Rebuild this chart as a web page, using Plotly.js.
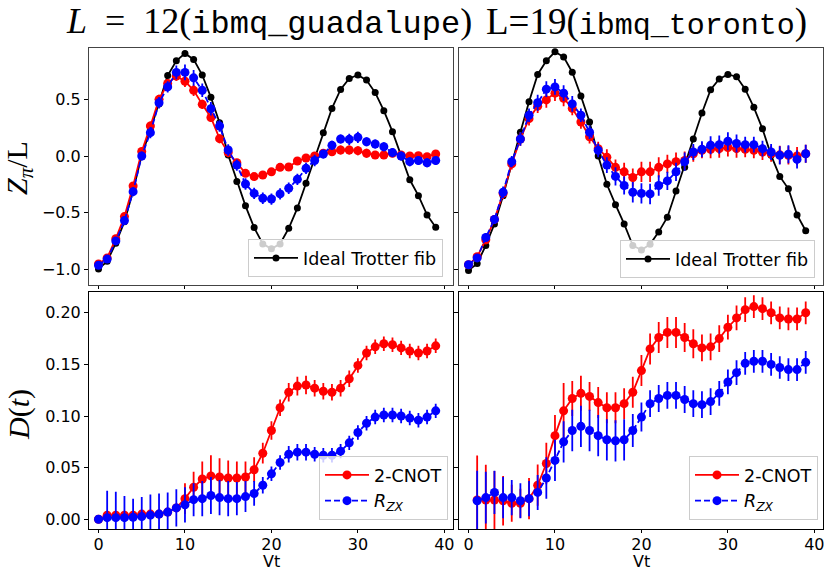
<!DOCTYPE html>
<html>
<head>
<meta charset="utf-8">
<script src="https://cdn.plot.ly/plotly-3.0.1.min.js"></script>
<style>html,body{margin:0;padding:0;background:#fff;}#chart{width:830px;height:572px;}</style>
</head>
<body>
<div id="chart"></div>
<script>
// ---------- data ----------
const vt = [0,1,2,3,4,5,6,7,8,9,10,11,12,13,14,15,16,17,18,19,20,21,22,23,24,25,26,27,28,29,30,31,32,33,34,35,36,37,38,39];
const vtRight = [1,2,3,4,5,6,7,8,9,10,11,12,13,14,15,16,17,18,19,20,21,22,23,24,25,26,27,28,29,30,31,32,33,34,35,36,37,38,39];

// L=12 (ibmq_guadalupe): Z_pi / L
const idealL12 = [-0.997,-0.93,-0.77,-0.58,-0.31,0.01,0.23,0.46,0.71,0.84,0.906,0.853,0.715,0.518,0.294,0.009,-0.226,-0.44,-0.632,-0.776,-0.82,-0.776,-0.638,-0.46,-0.24,-0.02,0.206,0.42,0.588,0.685,0.715,0.67,0.56,0.40,0.215,-0.006,-0.21,-0.35,-0.52,-0.63];
const cnotL12 = [-0.953,-0.90,-0.73,-0.535,-0.265,0.04,0.265,0.50,0.64,0.705,0.66,0.58,0.456,0.34,0.153,0.03,-0.06,-0.153,-0.182,-0.168,-0.14,-0.10,-0.097,-0.044,-0.018,0.0,0.024,0.038,0.053,0.053,0.047,0.024,0.009,0.009,0.024,0.009,0.0,0.003,-0.006,0.018];
const cnotL12Err = [0.02,0.02,0.03,0.03,0.03,0.03,0.04,0.04,0.04,0.04,0.05,0.05,0.04,0.04,0.04,0.04,0.03,0.03,0.03,0.03,0.03,0.03,0.03,0.03,0.03,0.03,0.03,0.03,0.04,0.04,0.04,0.04,0.03,0.03,0.03,0.03,0.03,0.03,0.03,0.03];
const rzxL12 = [-0.965,-0.91,-0.75,-0.57,-0.315,0.0,0.206,0.47,0.61,0.738,0.738,0.69,0.58,0.417,0.265,0.053,-0.08,-0.247,-0.33,-0.373,-0.38,-0.335,-0.285,-0.206,-0.109,-0.04,0.018,0.094,0.15,0.147,0.165,0.126,0.106,0.082,0.03,0.0,-0.05,-0.04,-0.06,-0.04];
const rzxL12Err = [0.02,0.02,0.03,0.04,0.04,0.04,0.05,0.05,0.05,0.06,0.07,0.07,0.06,0.06,0.05,0.05,0.05,0.05,0.05,0.05,0.05,0.05,0.05,0.05,0.05,0.05,0.04,0.04,0.04,0.05,0.05,0.04,0.04,0.04,0.04,0.04,0.04,0.04,0.04,0.04];

// L=19 (ibmq_toronto): Z_pi / L
const idealL19 = [-1.01,-0.95,-0.79,-0.60,-0.35,-0.06,0.21,0.48,0.72,0.84,0.92,0.875,0.74,0.53,0.30,0.0,-0.25,-0.43,-0.60,-0.79,-0.83,-0.78,-0.67,-0.54,-0.31,-0.10,0.15,0.38,0.585,0.68,0.72,0.70,0.59,0.43,0.24,0.006,-0.18,-0.29,-0.52,-0.66];
const cnotL19 = [-0.96,-0.89,-0.74,-0.56,-0.33,-0.07,0.15,0.33,0.44,0.495,0.555,0.51,0.42,0.30,0.17,0.065,-0.01,-0.10,-0.14,-0.19,-0.14,-0.14,-0.10,-0.07,-0.05,-0.04,0.02,0.05,0.06,0.065,0.075,0.065,0.06,0.05,0.035,0.02,0.01,0.006,0.0,0.02];
const cnotL19Err = [0.03,0.03,0.04,0.04,0.05,0.05,0.06,0.06,0.06,0.07,0.07,0.07,0.06,0.06,0.06,0.06,0.07,0.07,0.08,0.08,0.09,0.09,0.09,0.08,0.08,0.08,0.07,0.07,0.08,0.08,0.08,0.08,0.07,0.07,0.07,0.07,0.08,0.08,0.08,0.08];
const rzxL19 = [-0.96,-0.90,-0.72,-0.56,-0.32,-0.05,0.15,0.36,0.47,0.59,0.61,0.555,0.46,0.36,0.21,0.05,-0.08,-0.18,-0.26,-0.32,-0.33,-0.335,-0.26,-0.22,-0.14,-0.05,0.035,0.06,0.095,0.10,0.13,0.11,0.10,0.10,0.065,0.035,0.006,0.015,-0.03,0.02];
const rzxL19Err = [0.03,0.03,0.04,0.04,0.05,0.05,0.06,0.06,0.07,0.07,0.07,0.07,0.07,0.06,0.06,0.06,0.07,0.08,0.08,0.09,0.09,0.09,0.09,0.08,0.08,0.08,0.07,0.07,0.08,0.08,0.08,0.08,0.07,0.07,0.07,0.07,0.08,0.08,0.08,0.08];

// D(t)
const dCnotL12 = [0.0,0.004,0.004,0.004,0.004,0.005,0.005,0.005,0.007,0.011,0.020,0.031,0.039,0.042,0.041,0.040,0.040,0.041,0.048,0.064,0.086,0.108,0.123,0.129,0.130,0.127,0.124,0.123,0.127,0.136,0.149,0.161,0.167,0.170,0.169,0.166,0.163,0.161,0.163,0.168];
const dCnotL12Err = [0.001,0.003,0.003,0.003,0.003,0.003,0.003,0.003,0.003,0.004,0.015,0.015,0.017,0.02,0.018,0.017,0.016,0.015,0.012,0.01,0.009,0.008,0.009,0.009,0.009,0.008,0.008,0.008,0.008,0.008,0.007,0.007,0.007,0.007,0.007,0.007,0.007,0.007,0.007,0.007];
const dRzxL12 = [0.0,0.0016,0.0016,0.0016,0.002,0.0026,0.004,0.005,0.007,0.011,0.014,0.019,0.020,0.023,0.021,0.020,0.020,0.022,0.025,0.033,0.044,0.055,0.063,0.065,0.065,0.063,0.062,0.062,0.066,0.074,0.084,0.093,0.099,0.101,0.101,0.100,0.098,0.096,0.099,0.105];
const dRzxL12Err = [0.001,0.026,0.025,0.021,0.018,0.019,0.02,0.02,0.019,0.018,0.017,0.016,0.017,0.018,0.017,0.017,0.016,0.015,0.012,0.008,0.007,0.007,0.008,0.008,0.008,0.007,0.007,0.007,0.007,0.007,0.007,0.007,0.007,0.007,0.007,0.007,0.007,0.007,0.007,0.007];

const dCnotL19 = [0.0187,0.0187,0.0187,0.018,0.0155,0.0155,0.020,0.033,0.054,0.081,0.105,0.117,0.122,0.119,0.113,0.108,0.108,0.112,0.123,0.144,0.165,0.176,0.181,0.181,0.176,0.170,0.166,0.167,0.175,0.186,0.195,0.203,0.206,0.204,0.200,0.195,0.194,0.194,0.200];
const dCnotL19Err = [0.043,0.034,0.028,0.024,0.018,0.014,0.02,0.02,0.02,0.02,0.027,0.017,0.017,0.014,0.015,0.015,0.015,0.015,0.015,0.015,0.015,0.015,0.015,0.015,0.014,0.014,0.013,0.013,0.013,0.012,0.012,0.012,0.011,0.011,0.011,0.011,0.011,0.011,0.011];
const dRzxL19 = [0.018,0.021,0.026,0.021,0.021,0.018,0.020,0.026,0.040,0.057,0.075,0.086,0.090,0.086,0.081,0.077,0.076,0.077,0.086,0.099,0.112,0.117,0.120,0.120,0.116,0.112,0.111,0.114,0.122,0.133,0.142,0.151,0.153,0.153,0.150,0.147,0.145,0.145,0.152];
const dRzxL19Err = [0.029,0.025,0.021,0.02,0.017,0.017,0.017,0.017,0.02,0.02,0.02,0.02,0.02,0.02,0.02,0.02,0.02,0.02,0.016,0.014,0.013,0.013,0.013,0.013,0.013,0.013,0.013,0.013,0.012,0.012,0.012,0.011,0.011,0.011,0.011,0.011,0.011,0.011,0.011];

const xTicks = [0,10,20,30,40];
const zTicks = [-1.0,-0.5,0.0,0.5];
const dTicks = [0.00,0.05,0.10,0.15,0.20];

// ---------- traces ----------
function ideal(x, y, xa, ya, leg) {
  return {x, y, xaxis: xa, yaxis: ya, type: 'scatter', mode: 'lines+markers',
    name: 'Ideal Trotter fib', legend: leg, showlegend: true,
    line: {color: 'black', width: 1.8}, marker: {color: 'black', size: 7}};
}
function series(x, y, err, xa, ya, color, dash, name, leg, show) {
  return {x, y, xaxis: xa, yaxis: ya, type: 'scatter', mode: 'lines+markers',
    name, legend: leg, showlegend: show,
    line: {color, width: 1.8, dash},
    marker: {color, size: 9},
    error_y: {type: 'data', array: err, visible: true, color, thickness: 1.8, width: 0}};
}
const RZX = '<i>R</i><sub><i>ZX</i></sub>';
const data = [
  ideal(vt, idealL12, 'x', 'y', 'legend'),
  series(vt, cnotL12, cnotL12Err, 'x', 'y', 'red', 'solid', '2-CNOT', 'legend', false),
  series(vt, rzxL12, rzxL12Err, 'x', 'y', 'blue', '6px,3px', RZX, 'legend', false),
  ideal(vt, idealL19, 'x2', 'y2', 'legend2'),
  series(vt, cnotL19, cnotL19Err, 'x2', 'y2', 'red', 'solid', '2-CNOT', 'legend2', false),
  series(vt, rzxL19, rzxL19Err, 'x2', 'y2', 'blue', '6px,3px', RZX, 'legend2', false),
  series(vt, dCnotL12, dCnotL12Err, 'x3', 'y3', 'red', 'solid', '2-CNOT', 'legend3', true),
  series(vt, dRzxL12, dRzxL12Err, 'x3', 'y3', 'blue', '6px,3px', RZX, 'legend3', true),
  series(vtRight, dCnotL19, dCnotL19Err, 'x4', 'y4', 'red', 'solid', '2-CNOT', 'legend4', true),
  series(vtRight, dRzxL19, dRzxL19Err, 'x4', 'y4', 'blue', '6px,3px', RZX, 'legend4', true)
];

// ---------- layout ----------
const W = 830, H = 572;
const tickFont = {family: 'DejaVu Sans', size: 16, color: 'black'};
function xax(domain, showLabels, anchor, spine) {
  return {domain, anchor, range: [-1.1, 41.0], tickvals: xTicks, showticklabels: showLabels,
    ticks: 'outside', ticklen: 3, tickwidth: 1, tickcolor: 'black', tickfont: tickFont,
    ticklabelstandoff: -3,
    showline: true, mirror: true, linecolor: spine, linewidth: 1, showgrid: false, zeroline: false};
}
function yax(domain, range, tv, fmt, showLabels, anchor, spine) {
  return {domain, anchor, range, tickvals: tv, tickformat: fmt, showticklabels: showLabels,
    ticks: 'outside', ticklen: 4, tickwidth: 1, tickcolor: 'black', tickfont: tickFont,
    showline: true, mirror: true, linecolor: spine, linewidth: 1, showgrid: false, zeroline: false};
}
const xL = [89/W, 453/W], xR = [459/W, 823/W];
const yT = [1 - 285/H, 1 - 47.5/H], yB = [1 - 529.3/H, 1 - 291.5/H];
const zRange = [-1.139, 0.958], dRange = [-0.0097, 0.2206];
const legFont = {family: 'DejaVu Sans', size: 17.5, color: 'black'};
function leg(xr, yb) {
  return {x: xr/W, y: 1 - yb/H, xanchor: 'right', yanchor: 'bottom', xref: 'paper', yref: 'paper',
    bgcolor: 'rgba(255,255,255,0.8)', bordercolor: '#cccccc', borderwidth: 1, font: legFont,
    itemwidth: 44, tracegroupgap: 0};
}
const serif = 'Liberation Serif';
const mono = 'Liberation Mono';
const layout = {
  width: W, height: H, margin: {l: 0, r: 0, t: 0, b: 0},
  paper_bgcolor: 'white', plot_bgcolor: 'white', font: {family: 'DejaVu Sans', color: 'black'},
  xaxis: xax(xL, false, 'y', '#444'), yaxis: yax(yT, zRange, zTicks, '.1f', true, 'x', '#444'),
  xaxis2: xax(xR, false, 'y2', '#444'), yaxis2: yax(yT, zRange, zTicks, '.1f', false, 'x2', '#444'),
  xaxis3: xax(xL, true, 'y3', 'black'), yaxis3: yax(yB, dRange, dTicks, '.2f', true, 'x3', 'black'),
  xaxis4: xax(xR, true, 'y4', 'black'), yaxis4: yax(yB, dRange, dTicks, '.2f', false, 'x4', 'black'),
  legend: leg(443, 277),
  legend2: leg(815, 278),
  legend3: leg(448, 520),
  legend4: leg(818, 520),
  annotations: [
    {text: '<i>L</i>  =  12(<span style="font-family:' + mono + ';font-size:32px">ibmq_guadalupe</span>)',
     x: 269/W, y: 1 - 22/H, xref: 'paper', yref: 'paper', xanchor: 'center', yanchor: 'middle',
     showarrow: false, font: {family: serif, size: 36, color: 'black'}},
    {text: 'L=19(<span style="font-family:' + mono + ';font-size:30px">ibmq_toronto</span>)',
     x: 646/W, y: 1 - 22/H, xref: 'paper', yref: 'paper', xanchor: 'center', yanchor: 'middle',
     showarrow: false, font: {family: serif, size: 37, color: 'black'}},
    {text: '<i>Z</i><sub><i>π</i></sub>/L', textangle: -90,
     x: 19/W, y: 1 - 168/H, xref: 'paper', yref: 'paper', xanchor: 'center', yanchor: 'middle',
     showarrow: false, font: {family: serif, size: 30, color: 'black'}},
    {text: '<i>D</i>(<i>t</i>)', textangle: -90,
     x: 19/W, y: 1 - 415/H, xref: 'paper', yref: 'paper', xanchor: 'center', yanchor: 'middle',
     showarrow: false, font: {family: serif, size: 30, color: 'black'}},
    {text: 'Vt', x: 271/W, y: 0, xref: 'paper', yref: 'paper', xanchor: 'center', yanchor: 'bottom',
     showarrow: false, borderpad: 0, font: {family: 'DejaVu Sans', size: 16, color: 'black'}},
    {text: 'Vt', x: 641/W, y: 0, xref: 'paper', yref: 'paper', xanchor: 'center', yanchor: 'bottom',
     showarrow: false, borderpad: 0, font: {family: 'DejaVu Sans', size: 16, color: 'black'}}
  ]
};
Plotly.newPlot('chart', data, layout, {displayModeBar: false, staticPlot: true});
</script>
</body>
</html>
